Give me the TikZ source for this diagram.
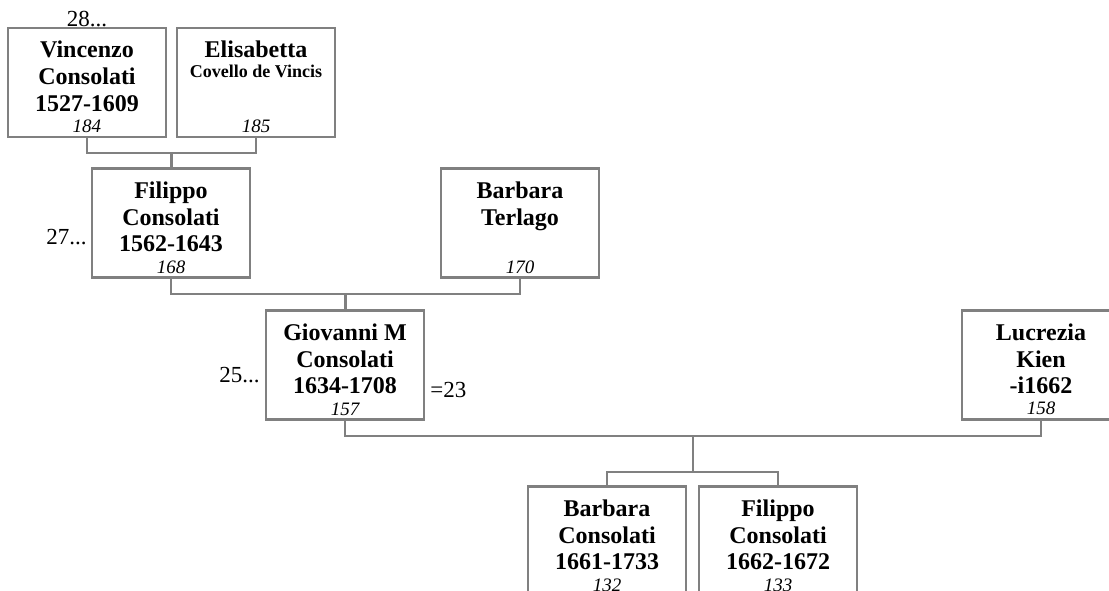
\documentclass[tikz,border=0pt]{standalone}
\usepackage{fontspec}
\setmainfont{Liberation Serif}
\usetikzlibrary{calc}

\definecolor{linegray}{RGB}{128,128,128}
\newcommand{\namefont}{\bfseries\fontsize{24}{26.7}\selectfont}
\newcommand{\numfont}{\mdseries\itshape\fontsize{19}{20}\selectfont}

\begin{document}
\begin{tikzpicture}[x=1pt, y=-1pt,
    card/.style={draw=linegray, line width=2.5pt, inner sep=0pt, minimum width=158pt, minimum height=109pt},
    link/.style={linegray, line width=2.5pt},
    side/.style={inner sep=0pt, font=\fontsize{23}{26}\selectfont}]

    \useasboundingbox (0,0) rectangle (1109,591);

    % Grandparents
    \node[card] (vincenzo) at (87,82.5) {\parbox[c][109pt][s]{158pt}{\centering\namefont
        \rule{0pt}{30pt}Vincenzo\\Consolati\\1527-1609\par\vfill{\numfont 184\par}\vspace{4pt}}};
    \node[card] (elisabetta) at (256,82.5) {\parbox[c][109pt][s]{158pt}{\centering\namefont
        \rule{0pt}{30pt}Elisabetta\\[-6.7pt]{\fontsize{18}{20}\selectfont Covello de Vincis}\par\vfill{\numfont 185\par}\vspace{4pt}}};

    % Parents
    \node[card] (filippo) at (171,223) {\parbox[c][109pt][s]{158pt}{\centering\namefont
        \rule{0pt}{30pt}Filippo\\Consolati\\1562-1643\par\vfill{\numfont 168\par}\vspace{4pt}}};
    \node[card] (barbaraT) at (520,223) {\parbox[c][109pt][s]{158pt}{\centering\namefont
        \rule{0pt}{30pt}Barbara\\Terlago\par\vfill{\numfont 170\par}\vspace{4pt}}};

    % Couple
    \node[card] (giovanni) at (345,365) {\parbox[c][109pt][s]{158pt}{\centering\namefont
        \rule{0pt}{30pt}Giovanni M\\Consolati\\1634-1708\par\vfill{\numfont 157\par}\vspace{4pt}}};
    \node[card] (lucrezia) at (1041,365) {\parbox[c][109pt][s]{158pt}{\centering\namefont
        \rule{0pt}{30pt}Lucrezia\\Kien\\-i1662\par\vfill{\numfont 158\par}\vspace{5pt}}};

    % Children
    \node[card] (barbaraC) at (607,541) {\parbox[c][109pt][s]{158pt}{\centering\namefont
        \rule{0pt}{30pt}Barbara\\Consolati\\1661-1733\par\vfill{\numfont 132\par}\vspace{4pt}}};
    \node[card] (filippoC) at (778,541) {\parbox[c][109pt][s]{158pt}{\centering\namefont
        \rule{0pt}{30pt}Filippo\\Consolati\\1662-1672\par\vfill{\numfont 133\par}\vspace{4pt}}};

    % Family links
    \coordinate (m1) at ($(vincenzo.south)!0.5!(elisabetta.south)+(0,15)$);
    \draw[link] (vincenzo.south) |- (m1) -| (elisabetta.south);
    \draw[link] (m1) -- (m1 |- filippo.north);

    \coordinate (m2) at ($(filippo.south)!0.5!(barbaraT.south)+(0,15)$);
    \draw[link] (filippo.south) |- (m2) -| (barbaraT.south);
    \draw[link] (m2) -- (m2 |- giovanni.north);

    \coordinate (m3) at ($(giovanni.south)!0.5!(lucrezia.south)+(0,15)$);
    \coordinate (k3) at ($(m3)+(0,36)$);
    \draw[link] (giovanni.south) |- (m3) -| (lucrezia.south);
    \draw[link] (m3) -- (k3);
    \draw[link] (barbaraC.north) |- (k3) -| (filippoC.north);

    % Generation marks
    \node[side, anchor=base] (gen28) at (vincenzo.north) {28...};
    \node[side, anchor=base east] (gen27) at ($(filippo.west)+(-4,21)$) {27...};
    \node[side, anchor=base east] (gen25) at ($(giovanni.west)+(-5,17)$) {25...};
    \node[side, anchor=base west] (gen23) at ($(giovanni.east)+(5,32)$) {=23};

\end{tikzpicture}
\end{document}
